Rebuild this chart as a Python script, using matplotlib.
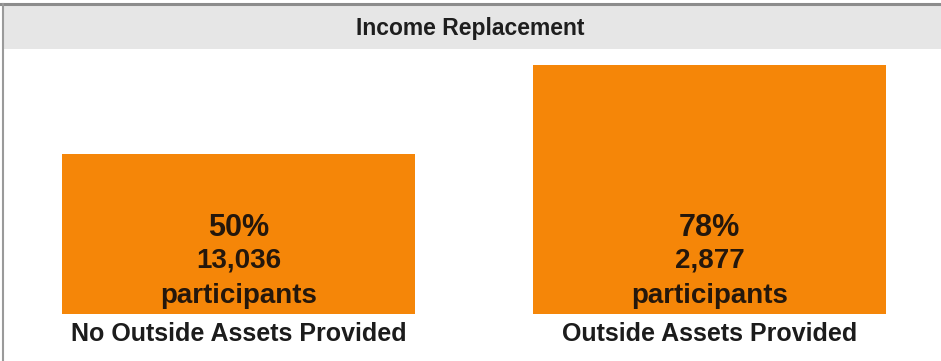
import matplotlib.pyplot as plt
from matplotlib.patches import Rectangle

categories = ["No Outside Assets Provided", "Outside Assets Provided"]
replacement_pct = [50, 78]
participants = [13036, 2877]

W, H = 941, 361
fig = plt.figure(figsize=(W / 100, H / 100), dpi=100)
fig.patch.set_facecolor("white")

def fx(px):
    return px / W

def fy(py):
    # pixel row from the top -> figure fraction from the bottom
    return 1 - py / H

# header band and frame
fig.patches.append(Rectangle((fx(3), fy(49)), fx(W - 3), fy(6) - fy(49),
                             transform=fig.transFigure, facecolor="#e6e6e6",
                             edgecolor="none", zorder=0))
fig.add_artist(plt.Line2D([fx(0), fx(W)], [fy(4), fy(4)], transform=fig.transFigure,
                          color="#8c8c8c", lw=2.2))
fig.add_artist(plt.Line2D([fx(2.5), fx(2.5)], [fy(4), fy(H)], transform=fig.transFigure,
                          color="#9a9a9a", lw=1.5))
fig.text(0.5, fy(28), "Income Replacement", ha="center", va="center",
         fontsize=16.5, fontweight="bold", family="Liberation Sans", color="#1e1e1e")

# bar area: baseline at row 314, top at row 50
ax = fig.add_axes([0, fy(314), 1, fy(50) - fy(314)])
ax.set_xlim(-0.506, 1.4915)
ax.set_ylim(0, 82.7)
ax.axis("off")

x = range(len(categories))
ax.bar(x, replacement_pct, width=0.75, color="#f58608", zorder=2)

font = dict(family="Liberation Sans", fontweight="bold", ha="center", va="center",
            annotation_clip=False)
for i, (pct, n, cat) in enumerate(zip(replacement_pct, participants, categories)):
    ax.annotate(f"{pct}%", (i, 0), xytext=(0, 86), textcoords="offset pixels",
                fontsize=22, color="#24170c", **font)
    ax.annotate(f"{n:,}", (i, 0), xytext=(0, 53), textcoords="offset pixels",
                fontsize=20, color="#24170c", **font)
    ax.annotate("participants", (i, 0), xytext=(0, 18), textcoords="offset pixels",
                fontsize=20, color="#24170c", **font)
    ax.annotate(cat, (i, 0), xytext=(0, -20), textcoords="offset pixels",
                fontsize=18, color="#1c1c1c", **font)

fig.savefig("out.png", dpi=100)
